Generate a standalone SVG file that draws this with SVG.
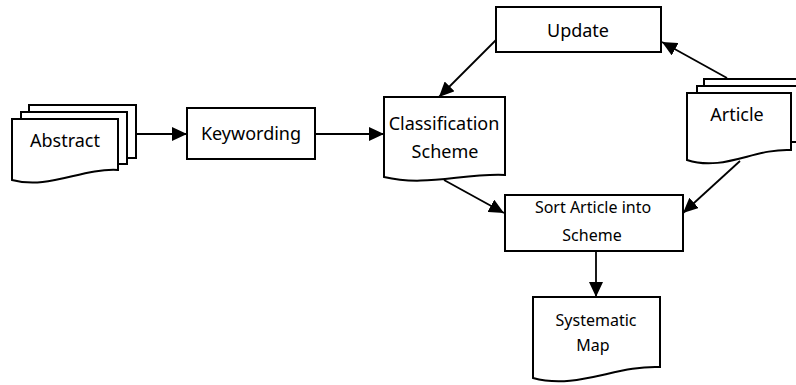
<svg xmlns="http://www.w3.org/2000/svg" width="796" height="385" viewBox="0 0 796 385">
<style>
.s{fill:#fff;stroke:#000;stroke-width:2;stroke-linejoin:miter}
.c{fill:none;stroke:#000;stroke-width:1.8}
.t{font-family:"Noto Sans","Open Sans",sans-serif;font-size:18px;fill:#000;text-anchor:middle}
.sm{font-size:16px}
</style>
<defs>
<marker id="ah" markerUnits="userSpaceOnUse" markerWidth="16" markerHeight="14" refX="15" refY="7" orient="auto">
<path d="M0,0 L15,7 L0,14 z" fill="#000"/>
</marker>
</defs>
<rect width="796" height="385" fill="#fff"/>
<g id="connectors">
<line class="c" x1="136" y1="134" x2="187" y2="134" marker-end="url(#ah)"/>
<line class="c" x1="315" y1="134" x2="384" y2="134" marker-end="url(#ah)"/>
<line class="c" x1="496" y1="40" x2="439" y2="97" marker-end="url(#ah)"/>
<line class="c" x1="727" y1="78" x2="662" y2="42" marker-end="url(#ah)"/>
<line class="c" x1="444" y1="180" x2="504" y2="213" marker-end="url(#ah)"/>
<line class="c" x1="740" y1="161" x2="683" y2="213" marker-end="url(#ah)"/>
<line class="c" x1="596" y1="251" x2="596" y2="297" marker-end="url(#ah)"/>
</g>
<g id="abstract">
<rect class="s" x="29" y="105" width="107" height="53"/>
<rect class="s" x="21" y="112" width="106" height="52"/>
<path class="s" d="M12,119 H118 V170 C81,168 49,190 12,180 Z"/>
<text class="t" x="65" y="147">Abstract</text>
</g>
<g id="keywording">
<rect class="s" x="187" y="108" width="128" height="51"/>
<text class="t" x="251" y="140">Keywording</text>
</g>
<g id="classification">
<path class="s" d="M384,97 H505 V175 C463,173 426,187 384,177 Z"/>
<text class="t" x="444" y="130">Classification</text>
<text class="t" x="445" y="158">Scheme</text>
</g>
<g id="update">
<rect class="s" x="496" y="7" width="165" height="45"/>
<text class="t" x="578" y="37">Update</text>
</g>
<g id="article">
<rect class="s" x="704" y="79" width="100" height="56"/>
<rect class="s" x="697" y="86" width="105" height="56"/>
<path class="s" d="M687,93 H791 V150 C755,148 723,172 687,160 Z"/>
<text class="t" x="737" y="121">Article</text>
</g>
<g id="sort">
<rect class="s" x="505" y="195" width="178" height="56"/>
<text class="t sm" x="593" y="213">Sort Article into</text>
<text class="t sm" x="592" y="241">Scheme</text>
</g>
<g id="map">
<path class="s" d="M533,297 H660 V367 C616,365 577,390 533,378 Z"/>
<text class="t sm" x="596" y="326">Systematic</text>
<text class="t sm" x="593" y="351">Map</text>
</g>
</svg>
